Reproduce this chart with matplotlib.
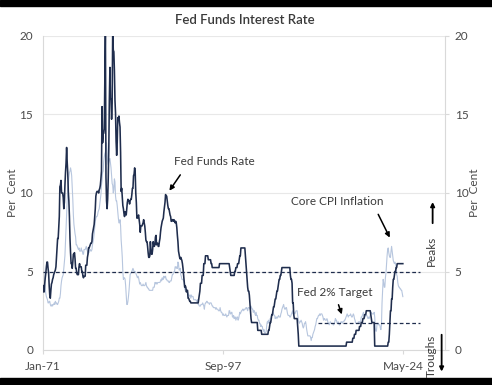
import matplotlib
matplotlib.use("Agg")
import matplotlib.pyplot as plt
from matplotlib.patches import Rectangle

plt.rcParams['font.family'] = ['Lato', 'DejaVu Sans']

# monthly values, Jan-71 .. May-24 (per cent)
fed_funds = [
    4.1, 3.7, 3.7, 4.2, 4.6, 4.9, 5.3, 5.6, 5.6, 5.2, 4.9, 4.1,  # 1971
    3.5, 3.3, 3.8, 4.2, 4.3, 4.5, 4.6, 4.8, 4.9, 5.0, 5.1, 5.3,  # 1972
    5.9, 6.6, 7.1, 7.1, 7.8, 8.5, 10.4, 10.5, 10.8, 10.0, 10.0, 10.0,  # 1973
    9.7, 9.0, 9.4, 10.5, 11.3, 11.9, 12.9, 12.0, 11.3, 10.1, 9.5, 8.5,  # 1974
    7.1, 6.2, 5.5, 5.5, 5.2, 5.6, 6.1, 6.1, 6.2, 5.8, 5.2, 5.2,  # 1975
    4.9, 4.8, 4.8, 4.8, 5.3, 5.5, 5.3, 5.3, 5.3, 5.0, 5.0, 4.7,  # 1976
    4.6, 4.7, 4.7, 4.7, 5.4, 5.4, 5.4, 5.9, 6.1, 6.5, 6.5, 6.6,  # 1977
    6.7, 6.8, 6.8, 6.9, 7.4, 7.6, 7.8, 8.0, 8.5, 9.0, 9.8, 10.0,  # 1978
    10.1, 10.1, 10.1, 10.0, 10.2, 10.3, 10.5, 10.9, 11.4, 15.5, 13.2, 13.8,  # 1979
    13.8, 14.1, 17.2, 20.5, 11.0, 9.5, 9.0, 9.6, 10.9, 12.8, 15.9, 18.0,  # 1980
    16.0, 16.0, 14.7, 15.7, 20.5, 19.1, 19.0, 17.8, 15.9, 15.1, 13.3, 12.4,  # 1981
    13.2, 14.8, 14.7, 14.9, 14.5, 14.2, 12.6, 10.1, 10.3, 9.7, 9.2, 9.0,  # 1982
    8.7, 8.5, 8.8, 8.8, 8.6, 9.0, 9.4, 9.6, 9.5, 9.5, 9.3, 9.5,  # 1983
    9.6, 9.6, 9.9, 10.3, 10.3, 11.1, 11.2, 11.6, 11.3, 10.0, 9.4, 8.4,  # 1984
    8.4, 8.5, 8.6, 8.3, 8.0, 7.5, 7.9, 7.9, 7.9, 8.0, 8.1, 8.3,  # 1985
    8.1, 7.9, 7.5, 7.0, 6.9, 6.9, 6.6, 6.2, 5.9, 5.9, 6.0, 6.9,  # 1986
    6.4, 6.1, 6.1, 6.4, 6.9, 6.7, 6.6, 6.7, 7.2, 7.3, 6.7, 6.8,  # 1987
    6.8, 6.6, 6.6, 6.9, 7.1, 7.5, 7.8, 8.0, 8.2, 8.3, 8.4, 8.8,  # 1988
    9.1, 9.4, 9.9, 9.8, 9.8, 9.5, 9.2, 9.0, 9.0, 8.8, 8.6, 8.5,  # 1989
    8.2, 8.2, 8.3, 8.3, 8.2, 8.3, 8.2, 8.1, 8.2, 8.1, 7.8, 7.3,  # 1990
    6.9, 6.3, 6.1, 5.9, 5.8, 5.9, 5.8, 5.7, 5.5, 5.2, 4.8, 4.4,  # 1991
    4.0, 4.1, 4.0, 3.7, 3.8, 3.8, 3.3, 3.3, 3.2, 3.1, 3.1, 3.0,  # 1992
    3.0, 3.0, 3.0, 3.0, 3.0, 3.0, 3.0, 3.0, 3.0, 3.0, 3.0, 3.0,  # 1993
    3.0, 3.25, 3.5, 3.75, 4.25, 4.25, 4.25, 4.75, 4.75, 4.75, 5.5, 5.5,  # 1994
    5.5, 6.0, 6.0, 6.0, 6.0, 6.0, 5.75, 5.75, 5.75, 5.75, 5.75, 5.5,  # 1995
    5.5, 5.25, 5.25, 5.25, 5.25, 5.25, 5.25, 5.25, 5.25, 5.25, 5.25, 5.25,  # 1996
    5.25, 5.25, 5.5, 5.5, 5.5, 5.5, 5.5, 5.5, 5.5, 5.5, 5.5, 5.5,  # 1997
    5.5, 5.5, 5.5, 5.5, 5.5, 5.5, 5.5, 5.5, 5.25, 5.0, 4.75, 4.75,  # 1998
    4.75, 4.75, 4.75, 4.75, 4.75, 5.0, 5.0, 5.25, 5.25, 5.25, 5.5, 5.5,  # 1999
    5.5, 5.75, 6.0, 6.0, 6.5, 6.5, 6.5, 6.5, 6.5, 6.5, 6.5, 6.5,  # 2000
    6.0, 5.5, 5.0, 4.5, 4.0, 3.75, 3.75, 3.5, 3.0, 2.5, 2.0, 1.75,  # 2001
    1.75, 1.75, 1.75, 1.75, 1.75, 1.75, 1.75, 1.75, 1.75, 1.75, 1.25, 1.25,  # 2002
    1.25, 1.25, 1.25, 1.25, 1.25, 1.0, 1.0, 1.0, 1.0, 1.0, 1.0, 1.0,  # 2003
    1.0, 1.0, 1.0, 1.0, 1.0, 1.25, 1.25, 1.5, 1.75, 1.75, 2.0, 2.25,  # 2004
    2.25, 2.5, 2.75, 2.75, 3.0, 3.25, 3.25, 3.5, 3.75, 3.75, 4.0, 4.25,  # 2005
    4.5, 4.5, 4.75, 4.75, 5.0, 5.25, 5.25, 5.25, 5.25, 5.25, 5.25, 5.25,  # 2006
    5.25, 5.25, 5.25, 5.25, 5.25, 5.25, 5.25, 5.25, 4.75, 4.5, 4.5, 4.25,  # 2007
    3.0, 3.0, 2.25, 2.0, 2.0, 2.0, 2.0, 2.0, 2.0, 1.5, 1.0, 0.25,  # 2008
    0.25, 0.25, 0.25, 0.25, 0.25, 0.25, 0.25, 0.25, 0.25, 0.25, 0.25, 0.25,  # 2009
    0.25, 0.25, 0.25, 0.25, 0.25, 0.25, 0.25, 0.25, 0.25, 0.25, 0.25, 0.25,  # 2010
    0.25, 0.25, 0.25, 0.25, 0.25, 0.25, 0.25, 0.25, 0.25, 0.25, 0.25, 0.25,  # 2011
    0.25, 0.25, 0.25, 0.25, 0.25, 0.25, 0.25, 0.25, 0.25, 0.25, 0.25, 0.25,  # 2012
    0.25, 0.25, 0.25, 0.25, 0.25, 0.25, 0.25, 0.25, 0.25, 0.25, 0.25, 0.25,  # 2013
    0.25, 0.25, 0.25, 0.25, 0.25, 0.25, 0.25, 0.25, 0.25, 0.25, 0.25, 0.25,  # 2014
    0.25, 0.25, 0.25, 0.25, 0.25, 0.25, 0.25, 0.25, 0.25, 0.25, 0.25, 0.25,  # 2015
    0.5, 0.5, 0.5, 0.5, 0.5, 0.5, 0.5, 0.5, 0.5, 0.5, 0.5, 0.75,  # 2016
    0.75, 0.75, 1.0, 1.0, 1.0, 1.25, 1.25, 1.25, 1.25, 1.25, 1.25, 1.5,  # 2017
    1.5, 1.5, 1.75, 1.75, 1.75, 2.0, 2.0, 2.0, 2.25, 2.25, 2.25, 2.5,  # 2018
    2.5, 2.5, 2.5, 2.5, 2.5, 2.5, 2.5, 2.25, 2.0, 1.75, 1.75, 1.75,  # 2019
    1.75, 1.75, 0.25, 0.25, 0.25, 0.25, 0.25, 0.25, 0.25, 0.25, 0.25, 0.25,  # 2020
    0.25, 0.25, 0.25, 0.25, 0.25, 0.25, 0.25, 0.25, 0.25, 0.25, 0.25, 0.25,  # 2021
    0.25, 0.25, 0.5, 0.5, 1.0, 1.75, 2.5, 2.5, 3.25, 3.25, 4.0, 4.5,  # 2022
    4.5, 4.75, 5.0, 5.0, 5.25, 5.25, 5.5, 5.5, 5.5, 5.5, 5.5, 5.5,  # 2023
    5.5, 5.5, 5.5, 5.5, 5.5,  # 2024
]

core_cpi = [
    6.2, 5.3, 4.6, 4.2, 3.9, 3.6, 3.4, 3.3, 3.2, 3.0, 3.0, 3.1,  # 1971
    3.1, 2.9, 2.8, 2.8, 2.9, 2.8, 2.9, 2.9, 3.0, 2.9, 3.1, 3.0,  # 1972
    3.0, 2.9, 2.9, 3.0, 3.1, 3.3, 3.3, 3.6, 4.1, 4.4, 4.6, 4.7,  # 1973
    4.8, 5.2, 5.6, 6.0, 6.9, 7.8, 8.6, 9.5, 10.1, 10.6, 11.0, 11.3,  # 1974
    11.4, 11.6, 11.4, 11.1, 10.4, 9.6, 8.6, 8.0, 7.7, 7.4, 7.2, 6.7,  # 1975
    6.7, 6.6, 6.5, 6.4, 6.5, 6.3, 6.3, 6.3, 6.5, 6.3, 6.3, 6.1,  # 1976
    6.1, 6.4, 6.4, 6.4, 6.5, 6.6, 6.4, 6.3, 6.1, 6.2, 6.2, 6.4,  # 1977
    6.4, 6.3, 6.3, 6.4, 6.7, 6.9, 7.1, 7.4, 7.8, 8.2, 8.4, 8.5,  # 1978
    8.5, 8.6, 8.8, 8.9, 9.0, 9.3, 9.6, 9.9, 10.5, 10.8, 11.3, 11.4,  # 1979
    12.0, 12.3, 12.5, 12.6, 12.9, 13.2, 12.6, 12.0, 11.8, 12.0, 12.1, 12.2,  # 1980
    11.9, 11.6, 11.1, 10.6, 10.5, 10.0, 10.2, 10.9, 10.7, 9.8, 9.5, 9.5,  # 1981
    9.2, 8.8, 8.4, 8.1, 8.1, 8.3, 7.9, 7.0, 6.5, 5.9, 5.0, 4.5,  # 1982
    4.6, 4.6, 4.5, 4.1, 3.5, 2.9, 2.9, 3.1, 3.4, 3.8, 4.3, 4.8,  # 1983
    4.9, 4.9, 5.0, 5.1, 5.2, 5.1, 5.0, 5.0, 5.0, 4.9, 4.8, 4.7,  # 1984
    4.6, 4.7, 4.6, 4.4, 4.2, 4.3, 4.2, 4.1, 4.1, 4.1, 4.2, 4.1,  # 1985
    4.1, 4.1, 4.2, 4.3, 4.1, 4.0, 4.0, 3.9, 3.9, 3.8, 3.8, 3.8,  # 1986
    3.8, 3.8, 3.8, 3.8, 4.0, 4.0, 4.0, 4.3, 4.3, 4.2, 4.3, 4.2,  # 1987
    4.3, 4.3, 4.3, 4.3, 4.3, 4.4, 4.5, 4.4, 4.6, 4.5, 4.5, 4.7,  # 1988
    4.6, 4.6, 4.7, 4.5, 4.5, 4.4, 4.4, 4.4, 4.3, 4.3, 4.4, 4.4,  # 1989
    4.4, 4.6, 4.8, 4.8, 4.9, 5.0, 5.0, 5.3, 5.3, 5.2, 5.3, 5.2,  # 1990
    5.6, 5.5, 5.1, 5.1, 5.2, 4.8, 4.7, 4.5, 4.5, 4.5, 4.4, 4.4,  # 1991
    3.9, 3.8, 3.8, 3.8, 3.7, 3.7, 3.6, 3.5, 3.4, 3.5, 3.5, 3.3,  # 1992
    3.5, 3.4, 3.4, 3.4, 3.2, 3.2, 3.2, 3.2, 3.2, 3.1, 3.1, 3.2,  # 1993
    2.9, 2.9, 2.8, 2.8, 2.8, 2.9, 2.9, 2.9, 3.0, 2.9, 2.8, 2.6,  # 1994
    2.9, 3.0, 3.0, 3.1, 3.1, 3.0, 3.0, 3.0, 2.9, 3.0, 3.0, 3.0,  # 1995
    2.9, 2.8, 2.8, 2.7, 2.7, 2.7, 2.7, 2.6, 2.7, 2.6, 2.6, 2.6,  # 1996
    2.5, 2.5, 2.5, 2.7, 2.5, 2.4, 2.4, 2.3, 2.2, 2.3, 2.2, 2.2,  # 1997
    2.2, 2.3, 2.2, 2.1, 2.2, 2.2, 2.2, 2.5, 2.5, 2.3, 2.3, 2.4,  # 1998
    2.4, 2.1, 2.1, 2.2, 2.0, 2.1, 2.1, 1.9, 2.0, 2.1, 2.1, 1.9,  # 1999
    2.0, 2.2, 2.4, 2.3, 2.4, 2.5, 2.5, 2.6, 2.6, 2.5, 2.6, 2.6,  # 2000
    2.6, 2.7, 2.7, 2.6, 2.5, 2.7, 2.7, 2.7, 2.6, 2.6, 2.8, 2.7,  # 2001
    2.6, 2.6, 2.4, 2.5, 2.5, 2.3, 2.2, 2.4, 2.2, 2.2, 2.0, 1.9,  # 2002
    1.9, 1.7, 1.7, 1.5, 1.6, 1.5, 1.5, 1.3, 1.2, 1.3, 1.1, 1.1,  # 2003
    1.1, 1.2, 1.6, 1.8, 1.7, 1.9, 1.8, 1.7, 2.0, 2.0, 2.2, 2.2,  # 2004
    2.3, 2.4, 2.3, 2.2, 2.2, 2.0, 2.1, 2.1, 2.0, 2.1, 2.1, 2.2,  # 2005
    2.1, 2.1, 2.1, 2.3, 2.4, 2.6, 2.7, 2.8, 2.9, 2.7, 2.6, 2.6,  # 2006
    2.7, 2.7, 2.5, 2.3, 2.2, 2.2, 2.2, 2.1, 2.1, 2.2, 2.3, 2.4,  # 2007
    2.5, 2.3, 2.4, 2.3, 2.3, 2.4, 2.5, 2.5, 2.5, 2.2, 2.0, 1.8,  # 2008
    1.7, 1.8, 1.8, 1.9, 1.8, 1.7, 1.5, 1.4, 1.5, 1.7, 1.7, 1.8,  # 2009
    1.6, 1.3, 1.1, 0.9, 0.9, 0.9, 0.9, 0.9, 0.8, 0.6, 0.8, 0.8,  # 2010
    1.0, 1.1, 1.2, 1.3, 1.5, 1.6, 1.8, 2.0, 2.0, 2.1, 2.2, 2.2,  # 2011
    2.3, 2.2, 2.3, 2.3, 2.3, 2.2, 2.1, 1.9, 2.0, 2.0, 1.9, 1.9,  # 2012
    1.9, 2.0, 1.9, 1.7, 1.7, 1.6, 1.7, 1.8, 1.7, 1.7, 1.7, 1.7,  # 2013
    1.6, 1.6, 1.7, 1.8, 2.0, 1.9, 1.9, 1.7, 1.7, 1.8, 1.7, 1.6,  # 2014
    1.6, 1.7, 1.8, 1.8, 1.7, 1.8, 1.8, 1.8, 1.9, 1.9, 2.0, 2.1,  # 2015
    2.2, 2.3, 2.2, 2.1, 2.2, 2.2, 2.2, 2.3, 2.2, 2.1, 2.1, 2.2,  # 2016
    2.3, 2.2, 2.0, 1.9, 1.7, 1.7, 1.7, 1.7, 1.7, 1.8, 1.7, 1.8,  # 2017
    1.8, 1.8, 2.1, 2.1, 2.2, 2.3, 2.4, 2.2, 2.2, 2.1, 2.2, 2.2,  # 2018
    2.2, 2.1, 2.0, 2.1, 2.0, 2.1, 2.2, 2.4, 2.4, 2.3, 2.3, 2.3,  # 2019
    2.3, 2.4, 2.1, 1.4, 1.2, 1.2, 1.6, 1.7, 1.7, 1.6, 1.6, 1.6,  # 2020
    1.4, 1.3, 1.6, 3.0, 3.8, 4.5, 4.3, 4.0, 4.0, 4.6, 4.9, 5.5,  # 2021
    6.0, 6.4, 6.5, 6.2, 6.0, 5.9, 5.9, 6.3, 6.6, 6.3, 6.0, 5.7,  # 2022
    5.6, 5.5, 5.6, 5.5, 5.3, 4.8, 4.7, 4.3, 4.1, 4.0, 4.0, 3.9,  # 2023
    3.9, 3.8, 3.8, 3.6, 3.4,  # 2024
]

x_labels = ['Jan-71', 'Sep-97', 'May-24']
x_label_pos = [0, 320, 640]
y_ticks = [0, 5, 10, 15, 20]
ref_level = 5        # dashed line
target_level = 1.75  # "Fed 2% Target" dashed line as drawn
target_start = 489   # month index where target line begins
ref_end = 670

navy = '#1f2d4d'
light = '#b7c6de'
grey = '#4a4a4a'
txt = '#3a3a3a'

fig = plt.figure(figsize=(4.92, 3.85), dpi=100)
ax = fig.add_axes([43 / 492, 1 - 350 / 385, 402 / 492, 314 / 385])

months = list(range(len(fed_funds)))
ax.plot(months, core_cpi, color=light, lw=0.8, zorder=2)
ax.plot(months, fed_funds, color=navy, lw=1.15, zorder=3)
ax.hlines(ref_level, 0, ref_end, colors=navy, linestyles=(0, (3, 2)), lw=0.9, zorder=4)
ax.hlines(target_level, target_start, ref_end, colors=navy, linestyles=(0, (3, 2)), lw=0.9, zorder=4)

ax.set_xlim(0, 715)
ax.set_ylim(0, 20)
ax.set_yticks(y_ticks)
ax.set_xticks(x_label_pos)
ax.set_xticklabels(x_labels)
ax.grid(axis='y', color='#e8e8e8', lw=0.8)
ax.set_axisbelow(True)
ax.spines['top'].set_visible(False)
for s in ['left', 'right', 'bottom']:
    ax.spines[s].set_color('#d9d9d9')
ax.tick_params(axis='y', length=0, pad=7, labelsize=8.5, labelcolor=grey)
ax.tick_params(axis='x', length=3, color='#d9d9d9', pad=5, labelsize=8.5, labelcolor=grey)

ax2 = ax.twinx()
ax2.set_ylim(0, 20)
ax2.set_yticks(y_ticks)
for s in ax2.spines.values():
    s.set_visible(False)
ax2.tick_params(axis='y', length=3, color='#d9d9d9', pad=4, labelsize=8.5, labelcolor=grey)

# annotations
ax.text(304, 12.0, 'Fed Funds Rate', ha='center', va='center', fontsize=8.5, color=txt)
ax.annotate('', xy=(222, 10.0), xytext=(247, 11.3),
            arrowprops=dict(arrowstyle='-|>', color='black', lw=1.1, mutation_scale=7))
ax.text(524, 9.45, 'Core CPI Inflation', ha='center', va='center', fontsize=8.5, color=txt)
ax.annotate('', xy=(619, 7.0), xytext=(594, 8.8),
            arrowprops=dict(arrowstyle='-|>', color='black', lw=1.1, mutation_scale=7))
ax.text(519, 3.65, 'Fed 2% Target', ha='center', va='center', fontsize=8.5, color=txt)
ax.annotate('', xy=(533, 2.1), xytext=(524, 3.05),
            arrowprops=dict(arrowstyle='-|>', color='black', lw=1.1, mutation_scale=7))

ax.text(691, 6.3, 'Peaks', rotation=90, ha='center', va='center', fontsize=8.5, color=txt)
ax.annotate('', xy=(693, 9.6), xytext=(693, 7.9),
            arrowprops=dict(arrowstyle='-|>', color='black', lw=1.3, mutation_scale=6))
ax.text(691, -0.4, 'Troughs', rotation=90, ha='center', va='center', fontsize=8.5,
        color=txt, clip_on=False)
ax.annotate('', xy=(709, -1.55), xytext=(709, 1.15), annotation_clip=False,
            arrowprops=dict(arrowstyle='-|>', color='black', lw=1.3, mutation_scale=6))

fig.text(245 / 492, 1 - 20 / 385, 'Fed Funds Interest Rate', ha='center', va='center',
         fontsize=9.5, fontweight='semibold', color=txt)
fig.text(13 / 492, 1 - 193 / 385, 'Per  Cent', rotation=90, ha='center', va='center',
         fontsize=8.5, color=grey)
fig.text(475 / 492, 1 - 193 / 385, 'Per  Cent', rotation=90, ha='center', va='center',
         fontsize=8.5, color=grey)

# black bands top and bottom
fig.add_artist(Rectangle((0, 1 - 6 / 385), 1, 6 / 385, transform=fig.transFigure,
                         color='black', zorder=20))
fig.add_artist(Rectangle((0, 0), 1, 7 / 385, transform=fig.transFigure,
                         color='black', zorder=20))

fig.savefig('out.png', dpi=100)
